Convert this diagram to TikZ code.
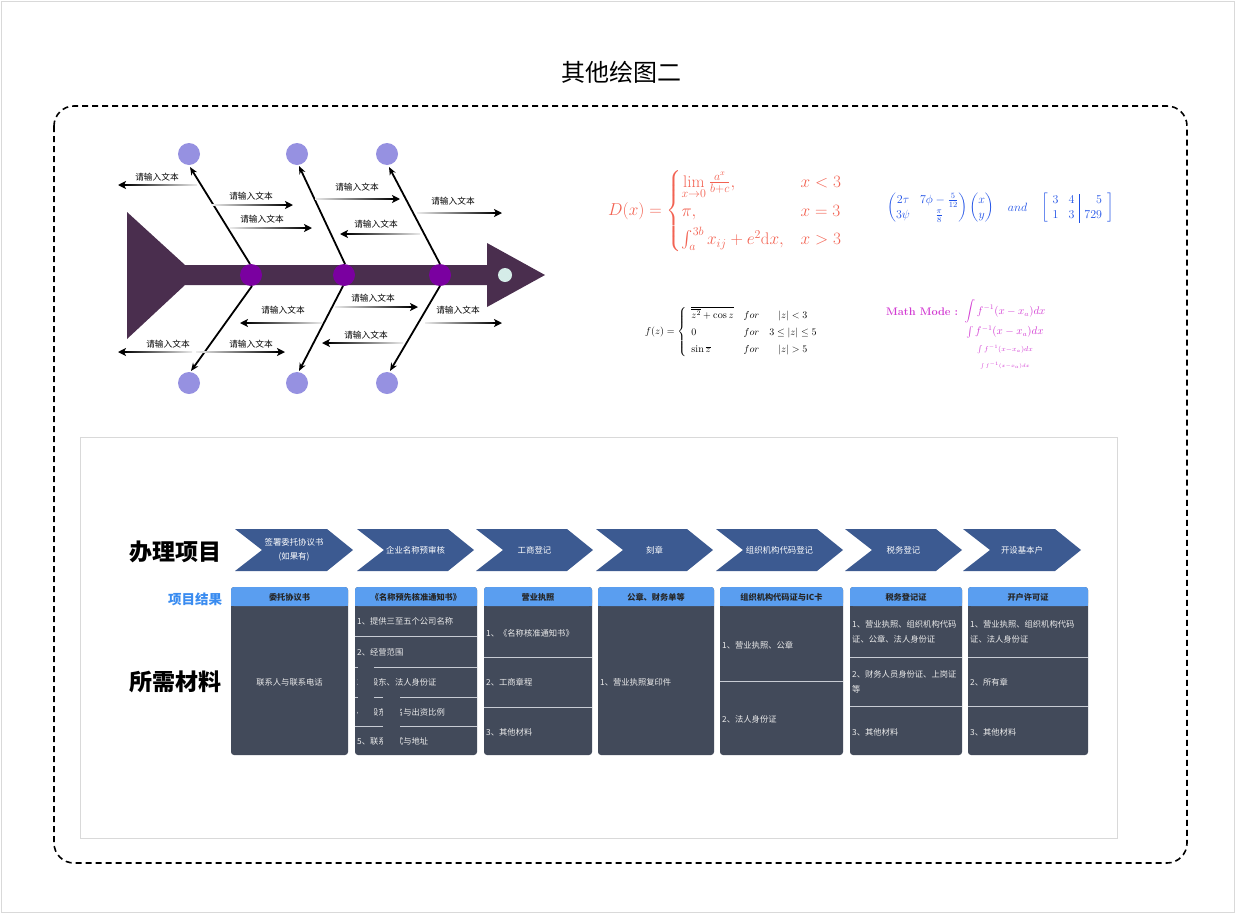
\documentclass[tikz,border=0pt]{standalone}
\usepackage{amsmath,amssymb}
\usepackage{fontspec}
\newfontfamily\cjk{Noto Sans CJK SC}
\usetikzlibrary{arrows.meta}
\definecolor{fish}{RGB}{74,46,78}
\definecolor{joint}{RGB}{122,0,160}
\definecolor{lav}{RGB}{150,145,225}
\definecolor{mint}{RGB}{213,236,232}
\definecolor{dcol}{RGB}{242,98,82}
\definecolor{mcol}{RGB}{30,80,230}
\definecolor{pcol}{RGB}{210,60,210}
\definecolor{chev}{RGB}{60,90,145}
\definecolor{head}{RGB}{90,158,240}
\definecolor{body}{RGB}{66,74,90}
\definecolor{blab}{RGB}{58,140,240}
\definecolor{sepc}{RGB}{200,204,212}
\tikzset{
 lab/.style={font=\cjk\fontsize{8.7}{10}\selectfont, inner sep=0},
 chevtxt/.style={font=\cjk\fontsize{8.4}{14}\selectfont, text=white, align=center, inner sep=0},
 headtxt/.style={font=\cjk\bfseries\fontsize{8.2}{10}\selectfont, text=black!85, inner sep=0},
 bodytxt/.style={font=\cjk\fontsize{8.3}{15}\selectfont, text=white!92!black, inner sep=0, anchor=west, align=left},
 bone/.style={line width=1.8, -{Stealth[length=8,width=6.5]}},
 tipline/.style={line width=1.8, -{Stealth[length=8,width=8,inset=2]}},
 sepline/.style={draw=sepc, line width=0.8},
}
\newcommand\rarrow[3]{\shade[left color=black!8,right color=black] (#1,#3-0.9) rectangle (#2-6,#3+0.9);
 \draw[tipline] (#2-9,#3) -- (#2,#3);}
\newcommand\larrow[3]{\shade[left color=black,right color=black!8] (#2+6,#3-0.9) rectangle (#1,#3+0.9);
 \draw[tipline] (#2+9,#3) -- (#2,#3);}
\newcommand\chevron[4]{% name, xl, xr, text
 \fill[chev] (#2,529) -- (#3-26,529) -- (#3,550) -- (#3-26,571) -- (#2,571) -- (#2+27,550) -- cycle;
 \node[chevtxt] (#1) at ({(#2+#3)/2},550) {#4};}
\newcommand\card[4]{% name, xl, xr, header
 \fill[body, rounded corners=3] (#2,587) rectangle (#3,755);
 \fill[head, rounded corners=3] (#2,587) rectangle (#3,606);
 \fill[head] (#2,598) rectangle (#3,606);
 \node[headtxt] (#1) at ({(#2+#3)/2},597) {#4};}
\begin{document}
\begin{tikzpicture}[x=1pt,y=-1pt]
\useasboundingbox (0,0) rectangle (1236,913);
\draw[black!15, line width=0.8] (1,1) rectangle (1234,912);
% title
\node[font=\cjk\fontsize{24}{28}\selectfont] (title) at (621,72) {其他绘图二};
% dashed frame
\draw[line width=1.6, dash pattern=on 6pt off 4pt, rounded corners=20] (54,106) rectangle (1187,863);

% ===== fishbone =====
\fill[fish] (127,212) -- (185,265) -- (487,265) -- (487,243) -- (545,275) -- (487,307) -- (487,285) -- (185,285) -- (127,339) -- cycle;
\fill[mint] (505,275) circle (7);
\foreach \n/\x in {j1/251,j2/344,j3/440}{\node[circle, fill=joint, minimum size=22, inner sep=0] (\n) at (\x,275) {};}
\foreach \n/\x in {t1/189,t2/297,t3/387}{\node[circle, fill=lav, minimum size=22, inner sep=0] (\n) at (\x,154) {};}
\foreach \n/\x in {b1/189,b2/297,b3/387}{\node[circle, fill=lav, minimum size=22, inner sep=0] (\n) at (\x,383) {};}
\draw[bone] (250,264) -- (190,167);
\draw[bone] (345,264) -- (299,166);
\draw[bone] (440,264) -- (389,167);
\draw[bone] (252,286) -- (191,371);
\draw[bone] (343,286) -- (299,371);
\draw[bone] (440,286) -- (390,371);
% small arrows
\larrow{197}{118}{185}
\rarrow{212}{293}{205}
\rarrow{230}{312}{228}
\rarrow{315}{400}{199}
\larrow{420}{340}{234}
\rarrow{417}{502}{213}
\rarrow{335}{418}{307}
\larrow{322}{240}{323}
\rarrow{425}{502}{323}
\larrow{403}{322}{343}
\larrow{192}{118}{352}
\rarrow{196}{285}{352}
\node[lab] (l1) at (157,177) {请输入文本};
\node[lab] (l2) at (251,196) {请输入文本};
\node[lab] (l3) at (262,219) {请输入文本};
\node[lab] (l4) at (357,187) {请输入文本};
\node[lab] (l5) at (376,224) {请输入文本};
\node[lab] (l6) at (453,201) {请输入文本};
\node[lab] (l7) at (373,298) {请输入文本};
\node[lab] (l8) at (283,310) {请输入文本};
\node[lab] (l9) at (458,310) {请输入文本};
\node[lab] (l10) at (366,335) {请输入文本};
\node[lab] (l11) at (168,344) {请输入文本};
\node[lab] (l12) at (251,344) {请输入文本};

% ===== formulas =====
\node[anchor=west, inner sep=0, text=dcol, font=\fontsize{16.8}{20}\selectfont] (fD) at (608,211)
 {$D(x)=\begin{cases}\lim\limits_{x\to0}\frac{a^x}{b+c}, & x<3\\[4pt] \pi, & x=3\\[4pt] \int_a^{3b}x_{ij}+e^2\mathrm{d}x, & x>3\end{cases}$};
\node[anchor=west, inner sep=0, text=mcol, font=\fontsize{12.1}{14.5}\selectfont] (fM) at (887,208)
 {$\begin{pmatrix}2\tau & 7\phi-\frac{5}{12}\\ 3\psi & \frac{\pi}{8}\end{pmatrix}\begin{pmatrix}x\\ y\end{pmatrix}\quad and\quad \left[\begin{array}{cc|r}3&4&5\\ 1&3&729\end{array}\right]$};
\node[anchor=west, inner sep=0, font=\fontsize{10.2}{12}\selectfont] (fz) at (645,332)
 {\renewcommand{\arraystretch}{1.45}$f(z)=\left\{\begin{array}{llc}\overline{\overline{z^2}+\cos z} & for & |z|<3\\ 0 & for & 3\le|z|\le5\\ \sin\overline{z} & for & |z|>5\end{array}\right.$};
\node[anchor=base west, inner sep=0, text=pcol, font=\fontsize{11}{13}\selectfont] (mm) at (886,315) {\textbf{Math Mode :}};
\node[inner sep=0, text=pcol, font=\fontsize{10.6}{12}\selectfont] (mi) at (1005,336)
 {\renewcommand{\arraystretch}{1.35}$\begin{array}{c}\displaystyle\int f^{-1}(x-x_a)dx\\ \textstyle\int f^{-1}(x-x_a)dx\\ \scriptstyle\int f^{-1}(x-x_a)dx\\ \scriptscriptstyle\int f^{-1}(x-x_a)dx\end{array}$};

% ===== process panel =====
\draw[black!15, line width=0.8] (80,437) rectangle (1117,838);
\node[font=\cjk\bfseries\fontsize{23}{26}\selectfont] (bl) at (175,552) {办理项目};
\node[font=\cjk\bfseries\fontsize{13.5}{16}\selectfont, text=blab] (jg) at (195,599) {项目结果};
\node[font=\cjk\bfseries\fontsize{23}{26}\selectfont] (cl) at (175,682) {所需材料};

\chevron{c1}{235}{353}{签署委托协议书\\(如果有)}
\chevron{c2}{357}{474}{企业名称预审核}
\chevron{c3}{476}{593}{工商登记}
\chevron{c4}{596}{713}{刻章}
\chevron{c5}{716}{843}{组织机构代码登记}
\chevron{c6}{845}{962}{税务登记}
\chevron{c7}{963}{1081}{开设基本户}

\card{h1}{231}{348}{委托协议书}
\card{h2}{355}{477}{《名称预先核准通知书》}
\card{h3}{484}{592}{营业执照}
\card{h4}{598}{714}{公章、财务单等}
\card{h5}{720}{843}{组织机构代码证与IC卡}
\card{h6}{850}{962}{税务登记证}
\card{h7}{968}{1088}{开户许可证}

% card 1
\node[bodytxt, anchor=center] (m1) at (289.5,682) {联系人与联系电话};
% card 2
\foreach \y in {636,667,697,726}{\draw[sepline] (355,\y) -- (477,\y);}
\node[bodytxt] (m21) at (357,621) {1、提供三至五个公司名称};
\node[bodytxt] (m22) at (357,652) {2、经营范围};
\node[bodytxt] (m23) at (357,682) {3、股东、法人身份证};
\node[bodytxt] (m24) at (357,712) {4、股东姓名与出资比例};
\node[bodytxt] (m25) at (357,741) {5、联系方式与地址};
\fill[body] (358,662) rectangle (373.5,724);
\fill[body] (382.5,690) rectangle (399.5,752);
% card 3
\foreach \y in {657,707}{\draw[sepline] (484,\y) -- (592,\y);}
\node[bodytxt] (m31) at (486,633) {1、《名称核准通知书》};
\node[bodytxt] (m32) at (486,682) {2、工商章程};
\node[bodytxt] (m33) at (486,732) {3、其他材料};
% card 4
\node[bodytxt] (m41) at (600,682) {1、营业执照复印件};
% card 5
\draw[sepline] (720,681) -- (843,681);
\node[bodytxt] (m51) at (722,645) {1、营业执照、公章};
\node[bodytxt] (m52) at (722,719) {2、法人身份证};
% card 6
\foreach \y in {657,706}{\draw[sepline] (850,\y) -- (962,\y);}
\node[bodytxt] (m61) at (852,632) {1、营业执照、组织机构代码\\证、公章、法人身份证};
\node[bodytxt] (m62) at (852,682) {2、财务人员身份证、上岗证\\等};
\node[bodytxt] (m63) at (852,732) {3、其他材料};
% card 7
\foreach \y in {657,706}{\draw[sepline] (968,\y) -- (1088,\y);}
\node[bodytxt] (m71) at (970,632) {1、营业执照、组织机构代码\\证、法人身份证};
\node[bodytxt] (m72) at (970,682) {2、所有章};
\node[bodytxt] (m73) at (970,732) {3、其他材料};
\end{tikzpicture}
\end{document}
